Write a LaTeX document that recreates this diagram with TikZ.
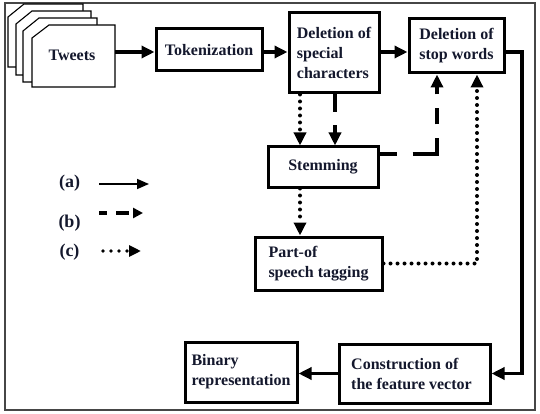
\documentclass[tikz,border=0pt]{standalone}
\usepackage{fontspec}
\setmainfont{Liberation Serif}
\usetikzlibrary{arrows.meta,calc}
\definecolor{txt}{RGB}{20,24,45}
\definecolor{frm}{RGB}{70,70,70}
\tikzset{
  box/.style={draw=black, line width=3pt, fill=white, inner sep=0pt, align=left, text=txt,
              font=\bfseries\fontsize{16}{20}\selectfont},
  stackbox/.style={draw=black, line width=1.1pt, fill=white},
  tip/.style={-{Triangle[length=13pt,width=12pt]}},
  solidarr/.style={tip, line width=3.6pt},
  dasharr/.style={tip, line width=3.4pt},
  dotarr/.style={tip, line width=4pt, line cap=round, dash pattern=on 0pt off 7pt},
  legtxt/.style={text=txt, font=\bfseries\fontsize{18}{20}\selectfont, inner sep=0pt},
}
\begin{document}
\begin{tikzpicture}[x=1pt,y=-1pt]
\useasboundingbox (0,0) rectangle (540,414);
\draw[frm, line width=1.6pt] (5,3) rectangle (535,410);

% stacked tweets
\draw[stackbox] (8,17) -- (24,4) -- (83,4) -- (83,67) -- (8,67) -- cycle;
\draw[stackbox] (16,24) -- (32,11) -- (91,11) -- (91,75) -- (16,75) -- cycle;
\draw[stackbox] (23,31) -- (39,18) -- (97,18) -- (97,82) -- (23,82) -- cycle;
\draw[stackbox] (32,38) -- (49,25) -- (115,25) -- (115,87) -- (32,87) -- cycle;
\node[legtxt, font=\bfseries\fontsize{16}{20}\selectfont, minimum width=83pt, minimum height=62pt] (tw) at (73.5,56) {\raisebox{2pt}{Tweets}\hspace*{3pt}};

% boxes
\node[box, minimum width=106pt, minimum height=42pt] (tok) at (209,50) {Tokenization};
\node[box, minimum width=90pt, minimum height=80pt] (sp) at (334,53) {Deletion of\\special\\characters};
\node[box, minimum width=95pt, minimum height=54pt] (sw) at (456.5,46) {Deletion of\\stop words};
\node[box, minimum width=110pt, minimum height=40pt] (stem) at (323,167) {Stemming};
\node[box, minimum width=127pt, minimum height=53pt] (pos) at (318.5,263.5) {Part-of\\speech tagging};
\node[box, minimum width=112pt, minimum height=60pt] (bin) at (241,372) {Binary\\representation};
\node[box, minimum width=151pt, minimum height=59pt] (cv) at (414.5,373.5) {\hspace*{-6pt}Construction of\\\hspace*{-6pt}the feature vector};

% helper coordinates
\coordinate (xdot) at (300,0);
\coordinate (xdash) at (335,0);
\coordinate (xup) at (437,0);
\coordinate (xpos) at (477,0);
\coordinate (xright) at (522,0);
\coordinate (ystem) at (0,154);
\coordinate (ysw) at (0,52);
\coordinate (ytw) at (0,52);

% connectors
\draw[solidarr] (tw.east |- ytw) -- (tok.west |- ytw);
\draw[solidarr] (tok.east |- ytw) -- (sp.west |- ytw);
\draw[solidarr] (sp.east |- ysw) -- (sw.west |- ysw);
\draw[dotarr] (sp.south -| xdot) -- (stem.north -| xdot);
\draw[dasharr, dash pattern=on 18pt off 13pt on 40pt] (sp.south -| xdash) -- (stem.north -| xdash);
\draw[dotarr] (stem.south -| xdot) -- (pos.north -| xdot);
\draw[dasharr, dash pattern=on 17pt off 16pt on 40pt off 14pt on 16pt off 14pt on 30pt]
  (stem.east |- ystem) -- (xup |- ystem) -- (sw.south -| xup);
\draw[dotarr] (pos.east) -- (xpos |- pos.east) -- (sw.south -| xpos);
\draw[solidarr] (sw.east |- ysw) -- (xright |- ysw) -- (xright |- cv.east) -- (cv.east);
\draw[solidarr] (cv.west) -- (bin.east |- cv.west);

% legend
\node[legtxt] (la) at (69.5,183) {(a)};
\node[legtxt] (lb) at (69.5,223) {(b)};
\node[legtxt] (lc) at (69.5,252) {(c)};
\coordinate (a1) at (99,184);
\coordinate (a2) at (149,184);
\coordinate (b1) at (99,213);
\coordinate (b2) at (143,213);
\coordinate (c1) at (103,251);
\coordinate (c2) at (141,251);
\draw[line width=1.6pt, -{Triangle[length=12pt,width=10pt]}] (a1) -- (a2);
\draw[line width=3.2pt, dash pattern=on 8pt off 9pt on 13pt off 30pt, -{Triangle[length=10pt,width=10pt]}] (b1) -- (b2);
\draw[line width=3.6pt, line cap=round, dash pattern=on 0pt off 8pt, -{Triangle[length=12pt,width=11pt]}] (c1) -- (c2);
\end{tikzpicture}
\end{document}
